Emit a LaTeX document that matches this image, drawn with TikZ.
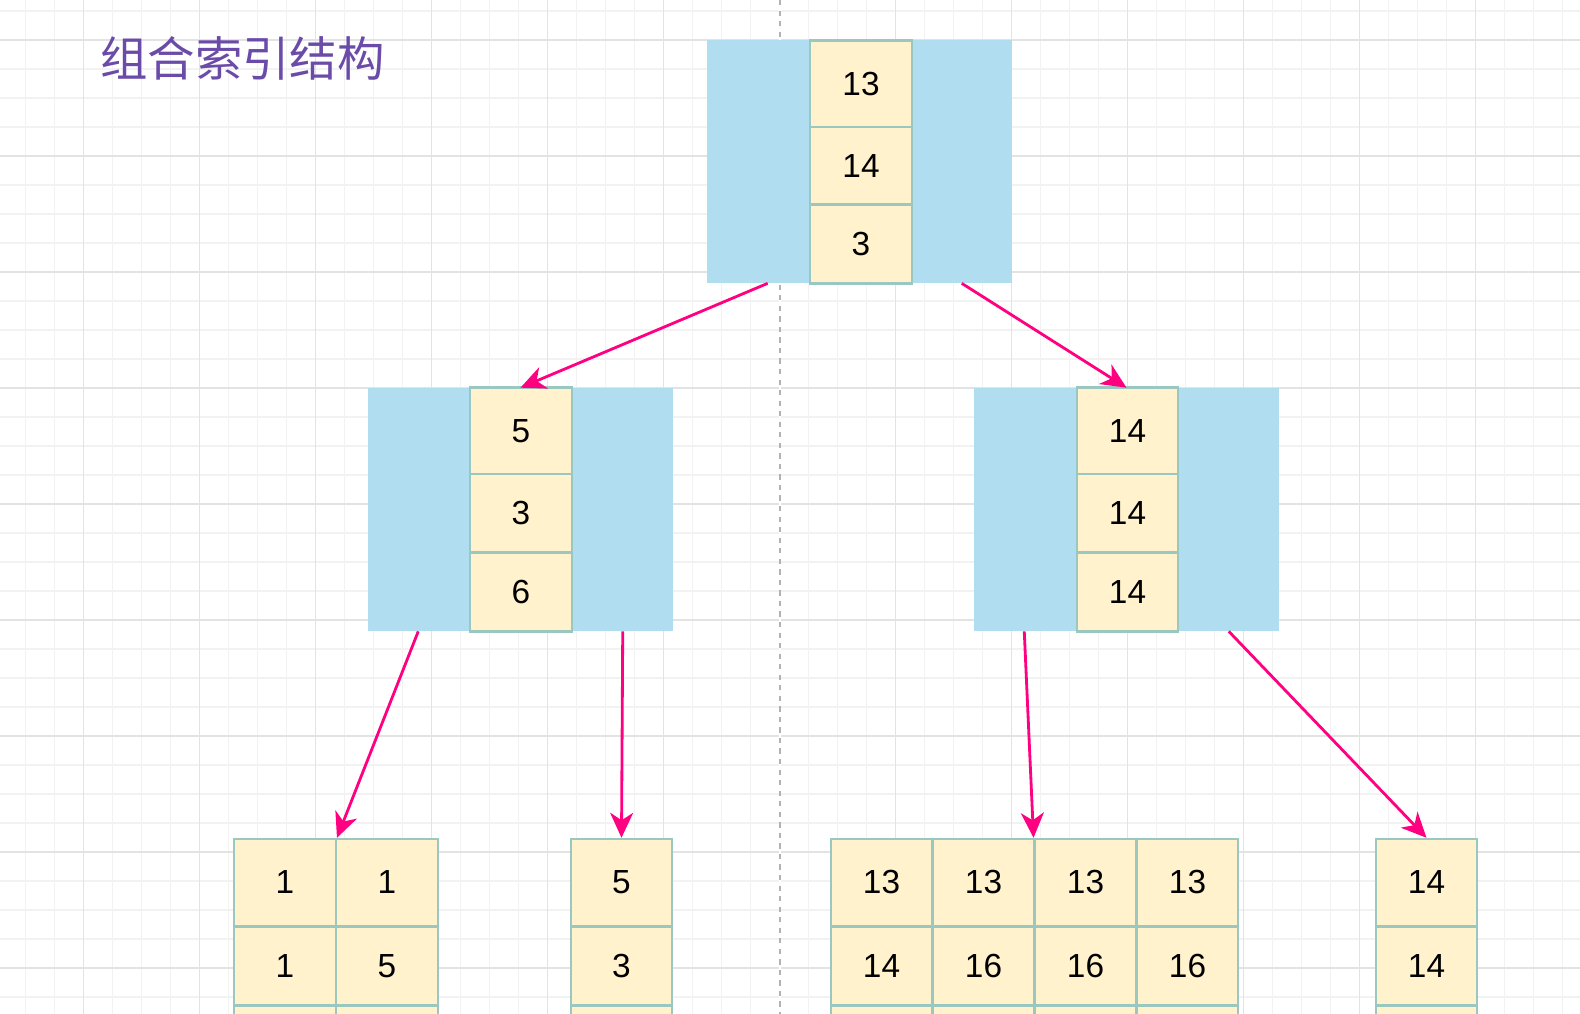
\documentclass[tikz,border=0pt]{standalone}
\usepackage{fontspec}
\setmainfont{Liberation Sans}
\newfontfamily\cjkfont{Noto Sans CJK SC}
\usetikzlibrary{arrows.meta}

\definecolor{keyblue}{HTML}{B1DDF0}
\definecolor{cellfill}{HTML}{FFF2CC}
\definecolor{celledge}{HTML}{9AC7BF}
\definecolor{linkpink}{HTML}{FF0080}
\definecolor{titlecol}{HTML}{6B4BA8}
\definecolor{gridminor}{HTML}{F2F2F2}
\definecolor{gridmajor}{HTML}{E3E3E3}

\begin{document}
\begin{tikzpicture}[x=0.02cm, y=-0.02cm,
    blknode/.style={fill=keyblue, draw=none, inner sep=0pt, minimum width=6.1cm, minimum height=4.86cm},
    keycell/.style={fill=cellfill, draw=celledge, line width=1.4pt, inner sep=0pt,
        minimum width=2.03cm, minimum height=1.58cm, font=\fontsize{19}{21}\selectfont},
    firstrow/.style={minimum height=1.74cm},
    link/.style={draw=linkpink, line width=1.6pt, -{Stealth[length=0.5cm, width=0.46cm, inset=0.15cm]}}]
    \useasboundingbox (0,0) rectangle (1580,1014);

    % background grid
    \foreach \i in {0,...,53}
        \draw[gridminor, line width=0.6pt] ({25.3+29*\i},0) -- ({25.3+29*\i},1014);
    \foreach \i in {0,...,34}
        \draw[gridminor, line width=0.6pt] (0,{11+29*\i}) -- (1580,{11+29*\i});
    \foreach \i in {0,...,12}
        \draw[gridmajor, line width=0.6pt] ({83.3+116*\i},0) -- ({83.3+116*\i},1014);
    \foreach \i in {0,...,8}
        \draw[gridmajor, line width=0.6pt] (0,{40+116*\i}) -- (1580,{40+116*\i});
    \draw[white, line width=1.2pt] (780,0) -- (780,1014);
    \draw[gray!60, dashed, line width=0.6pt] (780,0) -- (780,1014);

    \node[anchor=west, text=titlecol, font=\cjkfont\fontsize{27}{30}\selectfont] (title) at (94,58) {组合索引结构};

    % root
    \node[blknode] (top) at (859.5,161.5) {};
    \node[keycell, firstrow] (t1) at (861,84) {13};
    \node[keycell] (t2) at (861,166.5) {14};
    \node[keycell] (t3) at (861,244) {3};

    % second level
    \node[blknode] (midL) at (520.5,509.5) {};
    \node[keycell, firstrow] (m1) at (521,431) {5};
    \node[keycell] (m2) at (521,513.5) {3};
    \node[keycell] (m3) at (521,592) {6};

    \node[blknode] (midR) at (1126.5,509.5) {};
    \node[keycell, firstrow] (n1) at (1127.5,431) {14};
    \node[keycell] (n2) at (1127.5,513.5) {14};
    \node[keycell] (n3) at (1127.5,592) {14};

    % leaves
    \node[keycell, firstrow] (l1a) at (285,882.5) {1};
    \node[keycell, firstrow] (l1b) at (387,882.5) {1};
    \node[keycell] (l1c) at (285,966) {1};
    \node[keycell] (l1d) at (387,966) {5};
    \node[keycell] (l1e) at (285,1045) {};
    \node[keycell] (l1f) at (387,1045) {};

    \node[keycell, firstrow] (l2a) at (621.5,882.5) {5};
    \node[keycell] (l2b) at (621.5,966) {3};
    \node[keycell] (l2c) at (621.5,1045) {};

    \node[keycell, firstrow] (l3a) at (881.5,882.5) {13};
    \node[keycell, firstrow] (l3b) at (983.5,882.5) {13};
    \node[keycell, firstrow] (l3c) at (1085.5,882.5) {13};
    \node[keycell, firstrow] (l3d) at (1187.5,882.5) {13};
    \node[keycell] (l3e) at (881.5,966) {14};
    \node[keycell] (l3f) at (983.5,966) {16};
    \node[keycell] (l3g) at (1085.5,966) {16};
    \node[keycell] (l3h) at (1187.5,966) {16};
    \node[keycell] (l3i) at (881.5,1045) {};
    \node[keycell] (l3j) at (983.5,1045) {};
    \node[keycell] (l3k) at (1085.5,1045) {};
    \node[keycell] (l3l) at (1187.5,1045) {};

    \node[keycell, firstrow] (l4a) at (1426.5,882.5) {14};
    \node[keycell] (l4b) at (1426.5,966) {14};
    \node[keycell] (l4c) at (1426.5,1045) {};

    % pointers
    \draw[link] (top.233) -- (midL.north);
    \draw[link] (top.-50) -- (midR.north);
    \draw[link] (midL.-130) -- (l1a.north east);
    \draw[link] (midL.-50) -- (l2a.north);
    \draw[link] (midR.-130) -- (l3c.north west);
    \draw[link] (midR.-50) -- (l4a.north);
\end{tikzpicture}
\end{document}
